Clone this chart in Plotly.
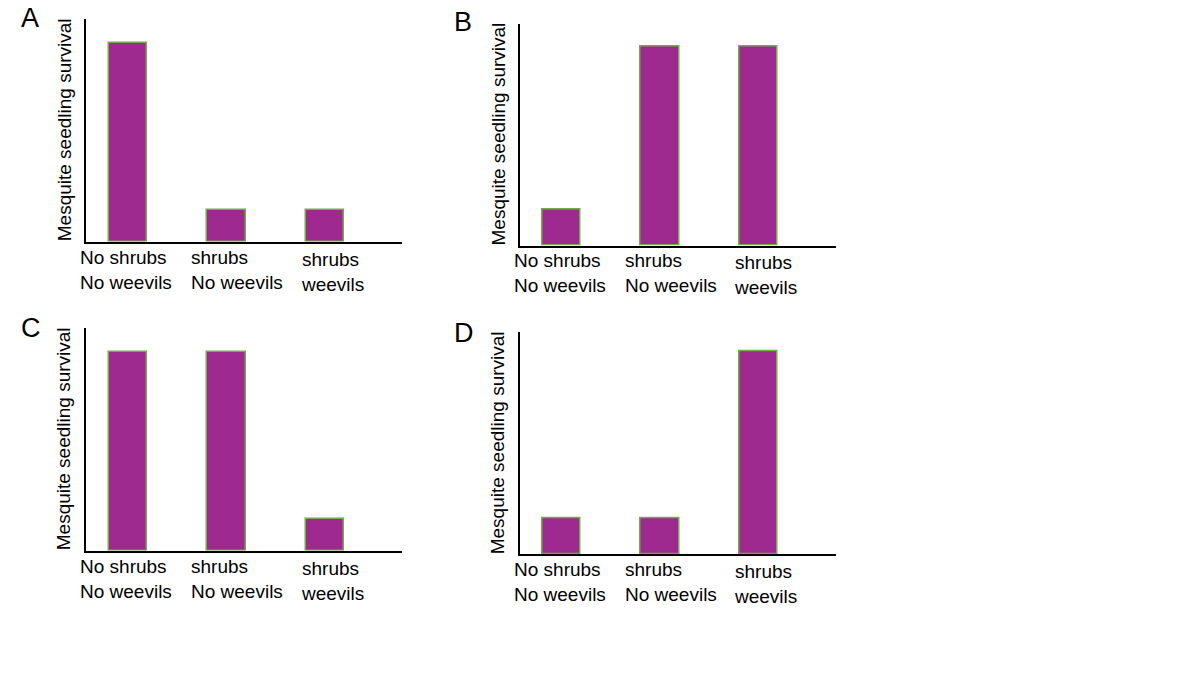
import plotly.graph_objects as go

# ---- data ----
categories = ["No shrubs|No weevils", "shrubs|No weevils", "shrubs|weevils"]
tick_line1 = ["No shrubs", "shrubs", "shrubs"]
tick_line2 = ["No weevils", "No weevils", "weevils"]
panel_labels = ["A", "B", "C", "D"]
values_A = [0.89, 0.14, 0.14]
values_B = [0.16, 0.895, 0.895]
values_C = [0.89, 0.89, 0.14]
values_D = [0.16, 0.16, 0.915]
y_title = "Mesquite seedling survival"

W, H = 1200, 675
FONT = "Liberation Sans, Arial, sans-serif"
BAR_COLOR = "#9E2A8F"
EDGE_COLOR = "#70AD47"

# panel geometry in pixels: (x0, x1, y_top, y_bottom)
geo = [
    (86, 402, 19, 241.5),
    (519.5, 835.5, 23.5, 245.5),
    (86, 402, 328, 550.5),
    (519.5, 835.5, 332.3, 554.3),
]
letter_pos = [(30, 18), (463, 22.5), (31, 328), (464, 333)]
title_x = [64, 498, 63, 497]

fig = go.Figure()
all_vals = [values_A, values_B, values_C, values_D]

# category axis range so that bar centers fall at ~42, 140, 239 px from axis start
px_per_unit = 98.55
first_center = 41.8

for i, vals in enumerate(all_vals):
    x0, x1, yt, yb = geo[i]
    n = i + 1
    xa = "x" if n == 1 else f"x{n}"
    ya = "y" if n == 1 else f"y{n}"
    fig.add_trace(go.Bar(
        x=categories, y=vals, xaxis=xa, yaxis=ya,
        marker=dict(color=BAR_COLOR, line=dict(color=EDGE_COLOR, width=1.5)),
        width=38.5 / px_per_unit, showlegend=False, hoverinfo="skip",
    ))
    r0 = -first_center / px_per_unit
    r1 = r0 + (x1 - x0) / px_per_unit
    xkey = "xaxis" if n == 1 else f"xaxis{n}"
    ykey = "yaxis" if n == 1 else f"yaxis{n}"
    fig.update_layout(**{
        xkey: dict(domain=[x0 / W, x1 / W], anchor=ya, type="category",
                   range=[r0, r1], showline=True, linecolor="black", linewidth=2,
                   showticklabels=False, ticks="", showgrid=False, zeroline=False,
                   fixedrange=True),
        ykey: dict(domain=[1 - yb / H, 1 - yt / H], anchor=xa, range=[0, 1],
                   showline=True, linecolor="black", linewidth=2,
                   showticklabels=False, ticks="", showgrid=False, zeroline=False,
                   fixedrange=True),
    })
    # panel letter
    lx, ly = letter_pos[i]
    fig.add_annotation(text=panel_labels[i], xref="paper", yref="paper",
                       x=lx / W, y=1 - ly / H, xanchor="center", yanchor="middle",
                       showarrow=False, font=dict(family=FONT, size=27, color="black"))
    # y title
    fig.add_annotation(text=y_title, xref="paper", yref="paper",
                       x=title_x[i] / W, y=1 - (yt + yb) / 2 / H, textangle=-90,
                       xanchor="center", yanchor="middle", showarrow=False,
                       font=dict(family=FONT, size=19, color="black"))
    # category labels (left aligned two-line blocks)
    xshifts = [-49.5, -37, -26]
    yshifts = [-3, -3, -5]
    for j, cat in enumerate(categories):
        fig.add_annotation(text=f"{tick_line1[j]}<br>{tick_line2[j]}",
                           xref=xa, yref="paper", x=cat, y=1 - yb / H,
                           xanchor="left", yanchor="top", align="left",
                           xshift=xshifts[j], yshift=yshifts[j], showarrow=False,
                           font=dict(family=FONT, size=19, color="black"))

fig.update_layout(
    width=W, height=H, margin=dict(l=0, r=0, t=0, b=0),
    paper_bgcolor="white", plot_bgcolor="white", bargap=0,
)

fig.write_html("out.html", config={"displayModeBar": False},
               post_script="document.body.style.margin='0';document.body.style.overflow='hidden';")
